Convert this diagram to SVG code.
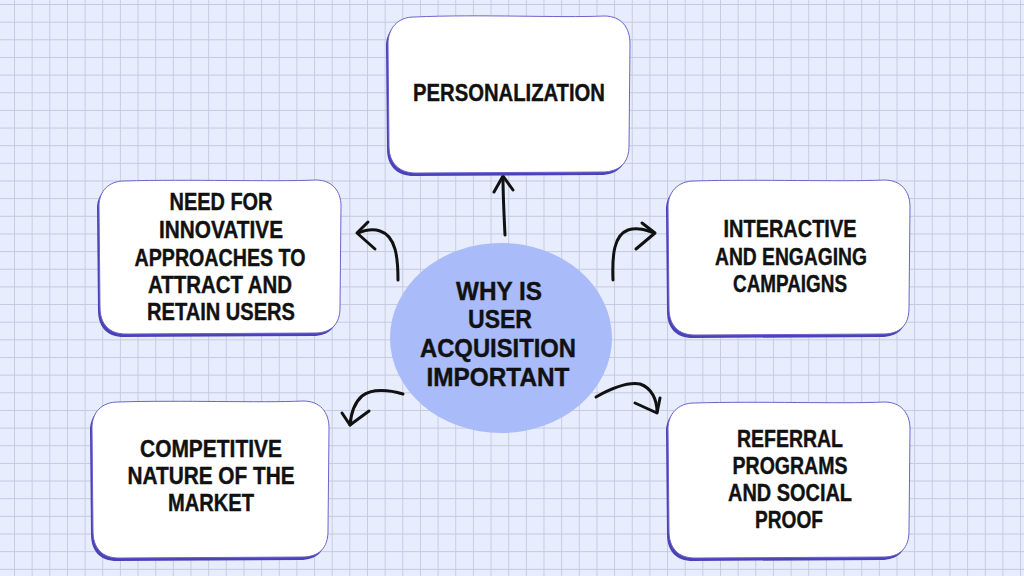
<svg xmlns="http://www.w3.org/2000/svg" xmlns:xlink="http://www.w3.org/1999/xlink" width="1024" height="576" viewBox="0 0 1024 576">
  <style>
    .bg { fill: #e7edfd; }
    .grid { stroke: #c4cadf; stroke-width: 1.8; fill: none; }
    .shadow { fill: #4a42b6; }
    .box { fill: #ffffff; stroke: #6d63cc; stroke-width: 1; }
    .hub { fill: #a9bbf8; }
    .t { font-family: "Liberation Sans", Arial, sans-serif; font-weight: bold; font-size: 24px; fill: #111111; text-anchor: middle; stroke: #111111; stroke-width: 0.4; }
    .th { font-size: 26px; }
    .arrow { fill: none; stroke: #111111; stroke-width: 3; stroke-linecap: round; stroke-linejoin: round; }
  </style>
  <defs>
    <pattern id="gridPat" x="14" y="4" width="17.65" height="17.65" patternUnits="userSpaceOnUse">
      <path class="grid" d="M0,0 L0,17.65 M0,0 L17.65,0"/>
    </pattern>
    <path id="bP" d="M414,17 C480,14 560,18 604,16 C622,16 630,28 630,44 L629,146 C629,162 620,172 602,172 L416,173 C399,173 389,163 389,146 L388,44 C388,28 398,17 414,17 Z"/>
    <path id="bN" d="M124,181 C190,179 270,182 316,180 C332,180 341,191 341,206 L340,308 C340,324 331,333 315,333 L126,334 C109,334 100,324 100,307 L99,206 C99,191 109,181 124,181 Z"/>
    <path id="bI" d="M694,181 C760,179 840,182 884,180 C901,180 910,191 910,207 L909,308 C909,325 900,334 883,334 L695,335 C678,335 669,325 669,308 L668,207 C668,192 678,181 694,181 Z"/>
    <path id="bC" d="M118,402 C180,400 260,403 303,401 C320,401 329,412 329,428 L328,531 C328,548 319,557 302,557 L119,558 C102,558 93,548 93,531 L92,428 C92,412 102,402 118,402 Z"/>
    <path id="bR" d="M694,403 C760,401 840,404 884,402 C901,402 910,413 910,429 L909,531 C909,548 900,557 883,557 L695,558 C678,558 669,548 669,531 L668,429 C668,414 678,403 694,403 Z"/>
  </defs>

  <rect class="bg" x="0" y="0" width="1024" height="576"/>
  <rect x="0" y="0" width="1024" height="576" fill="url(#gridPat)"/>

  <g id="connectors">
    <path class="arrow" d="M505,235 C504,215 503,195 503,177"/>
    <path class="arrow" d="M494,192 L503,176 L513,190"/>
    <path class="arrow" d="M398,280 C398,258 396,236 380,231 C372,228 365,230 358,233"/>
    <path class="arrow" d="M368,222 L357,233 L375,249"/>
    <path class="arrow" d="M613,280 C612,255 614,235 628,230 C638,227 646,230 654,233"/>
    <path class="arrow" d="M642,223 L655,233 L636,249"/>
    <path class="arrow" d="M403,394 C390,390 372,388 362,396 C354,403 351,414 350,425"/>
    <path class="arrow" d="M342,413 L350,425 L369,411"/>
    <path class="arrow" d="M596,397 C612,388 628,382 640,384 C652,388 657,400 657,412"/>
    <path class="arrow" d="M635,403 L657,413 L660,398"/>
  </g>

  <g id="node-personalization">
    <use xlink:href="#bP" class="shadow" transform="translate(-2,3)"/>
    <use xlink:href="#bP" class="box"/>
    <text class="t" x="509" y="101" textLength="192" lengthAdjust="spacingAndGlyphs">PERSONALIZATION</text>
  </g>

  <g id="node-innovative">
    <use xlink:href="#bN" class="shadow" transform="translate(-2,3)"/>
    <use xlink:href="#bN" class="box"/>
    <text class="t" x="221" y="210" textLength="103" lengthAdjust="spacingAndGlyphs">NEED FOR</text>
    <text class="t" x="221" y="238" textLength="124" lengthAdjust="spacingAndGlyphs">INNOVATIVE</text>
    <text class="t" x="220" y="266" textLength="171" lengthAdjust="spacingAndGlyphs">APPROACHES TO</text>
    <text class="t" x="220" y="293" textLength="144" lengthAdjust="spacingAndGlyphs">ATTRACT AND</text>
    <text class="t" x="221" y="320" textLength="148" lengthAdjust="spacingAndGlyphs">RETAIN USERS</text>
  </g>

  <g id="node-interactive">
    <use xlink:href="#bI" class="shadow" transform="translate(-2,3)"/>
    <use xlink:href="#bI" class="box"/>
    <text class="t" x="790" y="237" textLength="133" lengthAdjust="spacingAndGlyphs">INTERACTIVE</text>
    <text class="t" x="791" y="265" textLength="152" lengthAdjust="spacingAndGlyphs">AND ENGAGING</text>
    <text class="t" x="790" y="292" textLength="114" lengthAdjust="spacingAndGlyphs">CAMPAIGNS</text>
  </g>

  <g id="node-competitive">
    <use xlink:href="#bC" class="shadow" transform="translate(-2,3)"/>
    <use xlink:href="#bC" class="box"/>
    <text class="t" x="211" y="457" textLength="142" lengthAdjust="spacingAndGlyphs">COMPETITIVE</text>
    <text class="t" x="211" y="484" textLength="167" lengthAdjust="spacingAndGlyphs">NATURE OF THE</text>
    <text class="t" x="211" y="511" textLength="86" lengthAdjust="spacingAndGlyphs">MARKET</text>
  </g>

  <g id="node-referral">
    <use xlink:href="#bR" class="shadow" transform="translate(-2,3)"/>
    <use xlink:href="#bR" class="box"/>
    <text class="t" x="790" y="447" textLength="106" lengthAdjust="spacingAndGlyphs">REFERRAL</text>
    <text class="t" x="790" y="474" textLength="115" lengthAdjust="spacingAndGlyphs">PROGRAMS</text>
    <text class="t" x="790" y="501" textLength="124" lengthAdjust="spacingAndGlyphs">AND SOCIAL</text>
    <text class="t" x="789" y="528" textLength="68" lengthAdjust="spacingAndGlyphs">PROOF</text>
  </g>

  <g id="node-hub">
    <ellipse class="hub" cx="501" cy="338" rx="111" ry="95"/>
    <text class="t th" x="499" y="300" textLength="86" lengthAdjust="spacingAndGlyphs">WHY IS</text>
    <text class="t th" x="500" y="328" textLength="64" lengthAdjust="spacingAndGlyphs">USER</text>
    <text class="t th" x="498" y="357" textLength="156" lengthAdjust="spacingAndGlyphs">ACQUISITION</text>
    <text class="t th" x="498" y="386" textLength="143" lengthAdjust="spacingAndGlyphs">IMPORTANT</text>
  </g>
</svg>
